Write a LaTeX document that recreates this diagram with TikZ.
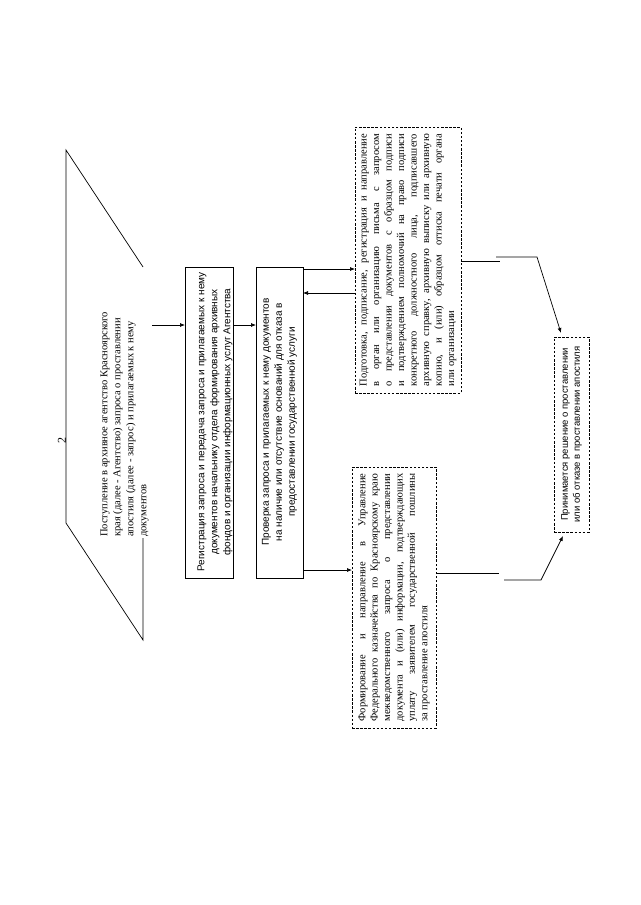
\documentclass[tikz,border=0pt]{standalone}
\usepackage{fontspec}
\setmainfont{Liberation Serif}
\setsansfont{Liberation Sans}
\usetikzlibrary{arrows.meta}
\begin{document}
\begin{tikzpicture}[x=1pt,y=-1pt,
  frame/.style={draw, line width=0.7pt, inner sep=0pt, outer sep=0pt, anchor=north west},
  dframe/.style={frame, dash pattern=on 2.5pt off 1.6pt},
  txt/.style={rotate=90, inner sep=0pt},
  arr/.style={line width=0.7pt, -{Latex[length=5pt,width=4pt]}},
  ln/.style={line width=0.7pt}]
\useasboundingbox (0,0) rectangle (640,905);
\fill[white] (0,0) rectangle (640,905);

% page number
\node[txt, font=\fontsize{12}{14}\selectfont] (num) at (62,440) {2};

% input parallelogram (its right side partly hidden in the reference)
\draw[ln] (143,538) -- (143,640) -- (66,523) -- (66,150) -- (143,267);
\node[txt, anchor=west, align=left, font=\fontsize{10.5}{13}\selectfont] (t1) at (124.5,537)
 {Поступление в архивное агентство Красноярского\\
  края (далее - Агентство) запроса о проставлении\\
  апостиля (далее - запрос) и прилагаемых к нему\\
  документов};
\coordinate (p1) at (152,325);

% box 2
\node[frame, minimum width=48pt, minimum height=311pt] (b2) at (185,267) {};
\node[txt, align=center, font=\sffamily\fontsize{10}{13}\selectfont] (t2) at (215,422)
 {Регистрация запроса и передача запроса и прилагаемых к нему\\
  документов начальнику отдела формирования архивных\\
  фондов и организации информационных услуг Агентства};

% box 3
\node[frame, minimum width=47pt, minimum height=311pt] (b3) at (256,267) {};
\node[txt, align=center, font=\sffamily\fontsize{10}{13}\selectfont] (t3) at (279.5,422)
 {Проверка запроса и прилагаемых к нему документов\\
  на наличие или отсутствие оснований для отказа в\\
  предоставлении государственной услуги};

% box 4
\node[dframe, minimum width=106pt, minimum height=266pt] (b4) at (355,127) {};
\node[txt, align=left, font=\fontsize{10.5}{12.5}\selectfont] (t4) at (408,260)
 {\makebox[252pt][s]{Подготовка, подписание, регистрация и направление}\\
  \makebox[252pt][s]{в орган или организацию письма с запросом}\\
  \makebox[252pt][s]{о представлении документов с образцом подписи}\\
  \makebox[252pt][s]{и подтверждением полномочий на право подписи}\\
  \makebox[252pt][s]{конкретного должностного лица, подписавшего}\\
  \makebox[252pt][s]{архивную справку, архивную выписку или архивную}\\
  \makebox[252pt][s]{копию, и (или) образцом оттиска печати органа}\\
  \makebox[252pt][l]{или организации}};

% box 5
\node[dframe, minimum width=84pt, minimum height=261pt] (b5) at (352,467) {};
\node[txt, align=left, font=\fontsize{10.5}{12.4}\selectfont] (t5) at (394,597.5)
 {\makebox[248pt][s]{Формирование и направление в Управление}\\
  \makebox[248pt][s]{Федерального казначейства по Красноярскому краю}\\
  \makebox[248pt][s]{межведомственного запроса о представлении}\\
  \makebox[248pt][s]{документа и (или) информации, подтверждающих}\\
  \makebox[248pt][s]{уплату заявителем государственной пошлины}\\
  \makebox[248pt][l]{за проставление апостиля}};

% decision box
\node[dframe, minimum width=35pt, minimum height=195pt] (d) at (554,337) {};
\node[txt, align=center, font=\sffamily\fontsize{9.5}{12}\selectfont] (t6) at (571.5,434.5)
 {Принимается решение о проставлении\\
  или об отказе в проставлении апостиля};

% helper rows
\coordinate (r1) at (0,325);
\coordinate (r2) at (0,269);
\coordinate (r3) at (0,293);
\coordinate (r4) at (0,570);
\coordinate (r5) at (0,261);
\coordinate (r6) at (0,573);

% arrows
\draw[arr] (p1) -- (b2.west |- r1);
\draw[arr] (b2.east |- r1) -- (b3.west |- r1);
\draw[arr] (b3.east |- r2) -- (b4.west |- r2);
\draw[arr] (b4.west |- r3) -- (b3.east |- r3);
\draw[arr] (b3.east |- r4) -- (b5.west |- r4);

% connectors to the decision
\coordinate (u1) at (500,261);
\coordinate (u2) at (496,257);
\coordinate (u3) at (537,257);
\coordinate (u4) at (561,333);
\draw[ln] (b4.east |- r5) -- (u1);
\draw[arr] (u2) -- (u3) -- (u4);

\coordinate (l1) at (499,573);
\coordinate (l2) at (504,580);
\coordinate (l3) at (541,580);
\coordinate (l4) at (563,536);
\draw[ln] (b5.east |- r6) -- (l1);
\draw[arr] (l2) -- (l3) -- (l4);
\end{tikzpicture}
\end{document}
